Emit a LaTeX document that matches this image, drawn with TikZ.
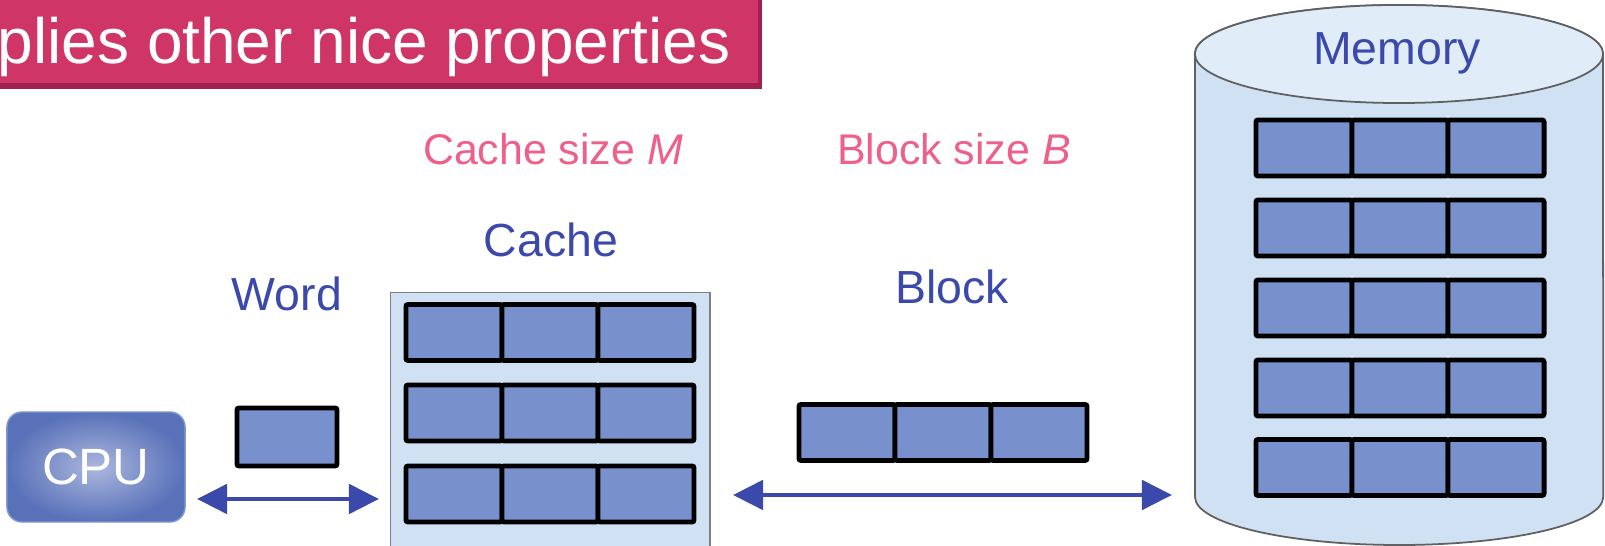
\documentclass[tikz,border=0pt]{standalone}
\usepackage{fontspec}
\setmainfont{Liberation Sans}
\usetikzlibrary{arrows.meta, positioning}

\definecolor{cellcolor}{RGB}{120,144,204}
\definecolor{labelblue}{RGB}{59,73,170}
\definecolor{sizepink}{RGB}{238,96,138}
\definecolor{cachebg}{RGB}{207,225,242}
\definecolor{memtop}{RGB}{224,237,248}
\definecolor{barcolor}{RGB}{208,53,104}
\definecolor{barshadow}{RGB}{160,33,80}

\begin{document}
\begin{tikzpicture}[
    x=0.01cm, y=0.01cm,
    cell/.style={draw=black, line width=1.4pt, fill=cellcolor, minimum width=0.96cm, minimum height=0.56cm, inner sep=0pt, outer sep=0pt, rounded corners=0.6pt},
    lbl/.style={text=labelblue, font=\fontsize{13.2}{15}\selectfont},
    sizelbl/.style={text=sizepink, font=\fontsize{12.2}{14}\selectfont},
    xfer/.style={<->, draw=labelblue, line width=1.4pt},
    >={Triangle[length=0.3cm, width=0.29cm]}
]
  \useasboundingbox (0,0) rectangle (1605,546);

  % title bar
  \fill[barshadow] (-10,457) rectangle (762,556);
  \fill[barcolor] (-10,463) rectangle (758,556);
  \node[anchor=base west, inner sep=0pt, text=white, font=\fontsize{18.2}{20}\selectfont] (title) at (-3,482) {plies other nice properties};

  % CPU and word
  \node[draw={rgb,255:red,132;green,151;blue,210}, rounded corners=0.15cm, inner color={rgb,255:red,172;green,183;blue,222}, outer color={rgb,255:red,88;green,113;blue,184}, minimum width=1.78cm, minimum height=1.10cm, text=white, font=\fontsize{14.5}{16}\selectfont] (cpu) at (96,79) {CPU};
  \node[cell, minimum width=1.0cm, minimum height=0.58cm] (word) at (287,109) {};
  \node[lbl] (wordlbl) at (287,252) {Word};
  \coordinate (wl) at (197,47);
  \coordinate (wr) at (379,47);
  \draw[xfer] (wl) -- (wr);

  % cache
  \node[draw=gray, fill=cachebg, minimum width=3.19cm, minimum height=2.70cm, anchor=north west, inner sep=0pt] (cache) at (390,254) {};
  \foreach \r/\y in {1/213.5, 2/133, 3/52}
    \foreach \c in {0,1,2}
      \node[cell] (c\r\c) at (454+96*\c, \y) {};
  \node[lbl] (cachelbl) at (551,306) {Cache};
  \node[sizelbl] (msize) at (553,397) {Cache size \textit{M}};

  % block in transfer
  \foreach \c in {0,1,2}
    \node[cell] (b\c) at (847+96*\c, 113.5) {};
  \node[lbl] (blocklbl) at (952,259) {Block};
  \node[sizelbl] (bsize) at (954,397) {Block size \textit{B}};
  \coordinate (bl) at (733,51);
  \coordinate (br) at (1172,51);
  \draw[xfer] (bl) -- (br);

  % memory
  \draw[draw={rgb,255:red,96;green,96;blue,96}, fill=cachebg, line width=0.5pt]
    (1195,492) -- (1195,49) arc[start angle=180, end angle=360, x radius=2.04cm, y radius=0.48cm]
    -- (1603,492) arc[start angle=0, end angle=180, x radius=2.04cm, y radius=0.49cm] -- cycle;
  \draw[draw={rgb,255:red,96;green,96;blue,96}, fill=memtop, line width=0.5pt] (1399,492) ellipse[x radius=2.04cm, y radius=0.49cm];
  \node[lbl] (memlbl) at (1397,493) {Memory};
  \foreach \r/\y in {1/398, 2/318, 3/238, 4/158, 5/78.5}
    \foreach \c in {0,1,2}
      \node[cell] (m\r\c) at (1304+96*\c, \y) {};
\end{tikzpicture}
\end{document}
